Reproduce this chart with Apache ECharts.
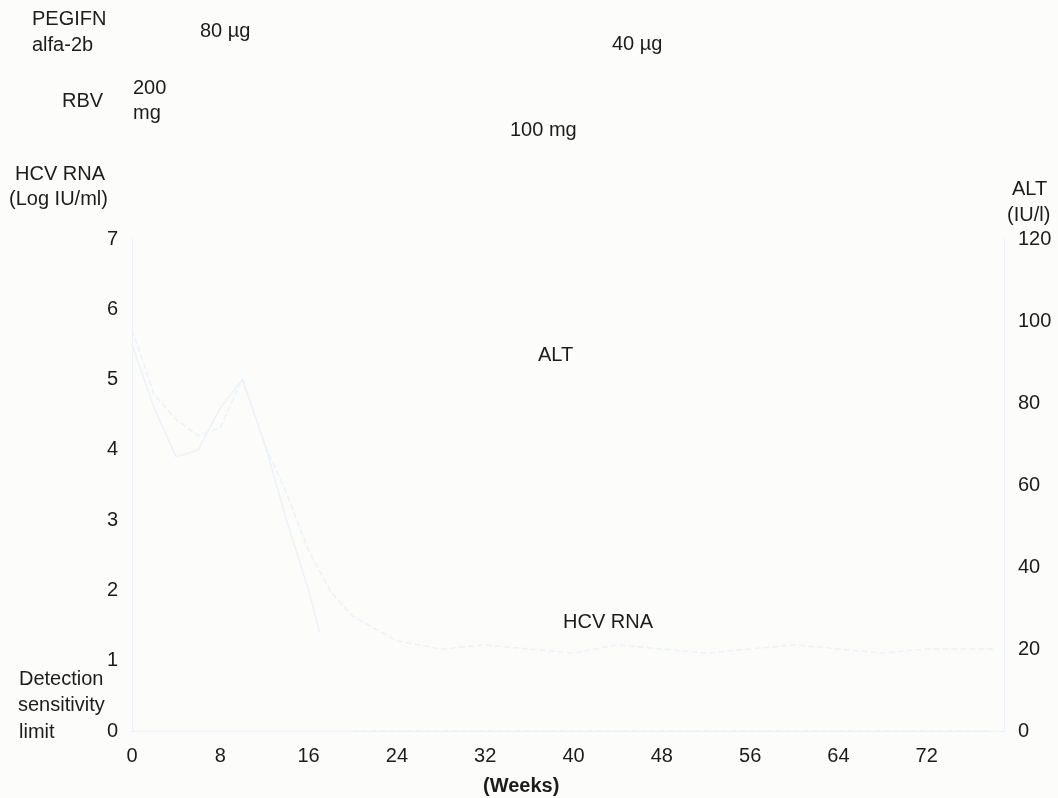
<!DOCTYPE html>
<html>
<head>
<meta charset="utf-8">
<script src="https://cdn.jsdelivr.net/npm/echarts@6/dist/echarts.min.js"></script>
<style>
html,body{margin:0;padding:0;background:#fcfcfa;}
#chart{width:1058px;height:798px;}
</style>
</head>
<body>
<div id="chart"></div>
<script>
// Data (marks are very faint in the scan)
const weekTicks = [0, 8, 16, 24, 32, 40, 48, 56, 64, 72];
const hcvWeeks = [0, 2, 4, 6, 8, 10, 12, 14, 16, 17];
const hcvValues = [5.5, 4.6, 3.9, 4.0, 4.6, 5.0, 4.1, 3.0, 2.0, 1.4];
const hcvUndetWeeks = [20, 24, 28, 32, 36, 40, 44, 48, 52, 56, 60, 64, 68, 72, 76, 78];
const hcvUndetValues = [0, 0, 0, 0, 0, 0, 0, 0, 0, 0, 0, 0, 0, 0, 0, 0];
const altWeeks = [0, 1, 2, 4, 6, 8, 10, 12, 14, 16, 18, 20, 24, 28, 32, 36, 40, 44, 48, 52, 56, 60, 64, 68, 72, 76, 78];
const altValues = [98, 90, 82, 76, 72, 74, 86, 70, 58, 44, 34, 28, 22, 20, 21, 20, 19, 21, 20, 19, 20, 21, 20, 19, 20, 20, 20];

const ink = '#1c1c1c';
const faint = '#edf2f8';
const fs = 20;
const ff = '"Liberation Sans", Arial, sans-serif';

function t(x, y, s, extra) {
  return Object.assign({
    type: 'text', left: x, top: y - fs / 2 - 1,
    style: { text: s, fill: ink, font: fs + 'px ' + ff }
  }, extra || {});
}

const chart = echarts.init(document.getElementById('chart'), null, { renderer: 'canvas' });
chart.setOption({
  backgroundColor: '#fcfcfa',
  animation: false,
  grid: { left: 132, right: 54, top: 239, bottom: 67 },
  xAxis: {
    type: 'value', min: 0, max: 79, interval: 8,
    axisLine: { show: true, lineStyle: { color: faint } },
    axisTick: { show: false },
    splitLine: { show: false },
    axisLabel: {
      color: ink, fontSize: fs, fontFamily: ff, margin: 15,
      showMaxLabel: false,
      formatter: v => weekTicks.includes(v) ? String(v) : ''
    }
  },
  yAxis: [
    {
      type: 'value', min: 0, max: 7, interval: 1,
      axisLine: { show: true, lineStyle: { color: faint } },
      axisTick: { show: false }, splitLine: { show: false },
      axisLabel: { color: ink, fontSize: fs, fontFamily: ff, margin: 14 }
    },
    {
      type: 'value', min: 0, max: 120, interval: 20, position: 'right',
      axisLine: { show: true, lineStyle: { color: faint } },
      axisTick: { show: false }, splitLine: { show: false },
      axisLabel: { color: ink, fontSize: fs, fontFamily: ff, margin: 14 }
    }
  ],
  series: [
    {
      name: 'HCV RNA', type: 'line', yAxisIndex: 0, symbol: 'none',
      lineStyle: { color: faint, width: 1.5 },
      data: hcvWeeks.map((w, i) => [w, hcvValues[i]])
    },
    {
      name: 'HCV RNA (undetectable)', type: 'line', yAxisIndex: 0, symbol: 'none',
      lineStyle: { color: faint, width: 1.5, type: 'dashed' },
      data: hcvUndetWeeks.map((w, i) => [w, hcvUndetValues[i]])
    },
    {
      name: 'ALT', type: 'line', yAxisIndex: 1, symbol: 'none',
      lineStyle: { color: faint, width: 1.5, type: 'dashed' },
      data: altWeeks.map((w, i) => [w, altValues[i]])
    }
  ],
  graphic: [
    t(32, 20, 'PEGIFN'),
    t(32, 46, 'alfa-2b'),
    t(200, 32, '80 µg'),
    t(612, 45, '40 µg'),
    t(133, 89, '200'),
    t(133, 114, 'mg'),
    t(62, 102, 'RBV'),
    t(510, 131, '100 mg'),
    t(15, 175, 'HCV RNA'),
    t(9, 200, '(Log IU/ml)'),
    t(1012, 190, 'ALT'),
    t(1007, 216, '(IU/l)'),
    t(538, 356, 'ALT'),
    t(563, 623, 'HCV RNA'),
    t(19, 680, 'Detection'),
    t(18, 706, 'sensitivity'),
    t(19, 733, 'limit'),
    { type: 'text', left: 483, top: 776, style: { text: '(Weeks)', fill: ink, font: 'bold ' + fs + 'px ' + ff } }
  ]
});
</script>
</body>
</html>
